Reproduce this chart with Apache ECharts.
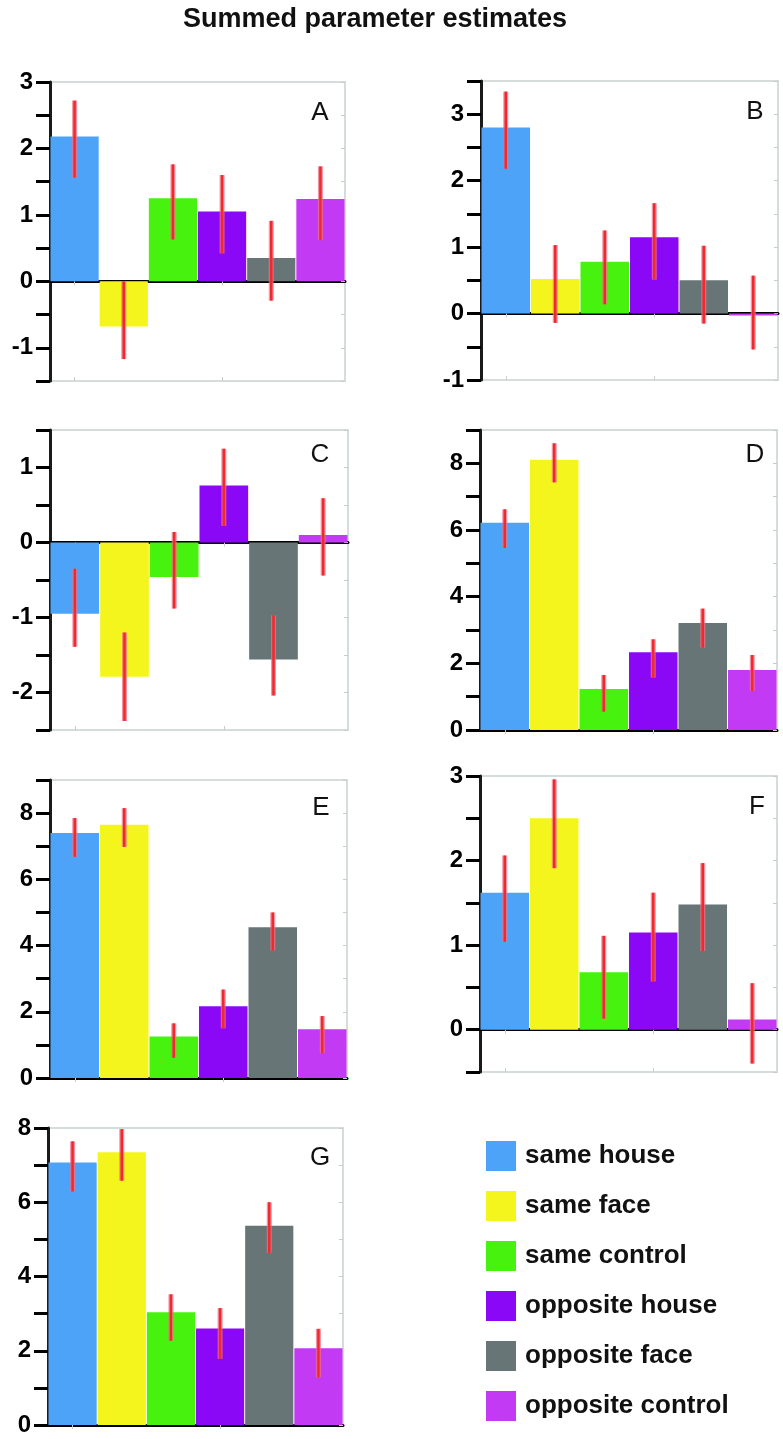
<!DOCTYPE html>
<html>
<head>
<meta charset="utf-8">
<script src="https://cdn.jsdelivr.net/npm/echarts@6/dist/echarts.min.js"></script>
<style>
html,body{margin:0;padding:0;background:#fff;}
#chart{width:783px;height:1439px;}
</style>
</head>
<body>
<div id="chart"></div>
<script>
// ---- data ----
var categories = ['same house','same face','same control','opposite house','opposite face','opposite control'];
var colors = ['#4da3f7','#f5f51e','#46f20e','#8a08f5','#687576','#c33af5'];
var panelNames = ['A','B','C','D','E','F','G'];

var A_mean = [2.18, -0.68, 1.25, 1.05, 0.35, 1.24];
var A_low  = [1.56, -1.17, 0.63, 0.42, -0.29, 0.62];
var A_high = [2.72, 0.0, 1.76, 1.60, 0.91, 1.73];

var B_mean = [2.80, 0.52, 0.78, 1.15, 0.50, -0.03];
var B_low  = [2.18, -0.14, 0.14, 0.51, -0.15, -0.54];
var B_high = [3.34, 1.03, 1.25, 1.66, 1.02, 0.57];

var C_mean = [-0.95, -1.79, -0.46, 0.76, -1.56, 0.10];
var C_low  = [-1.39, -2.38, -0.88, 0.22, -2.04, -0.44];
var C_high = [-0.35, -1.20, 0.14, 1.25, -0.97, 0.59];

var D_mean = [6.22, 8.11, 1.23, 2.33, 3.21, 1.80];
var D_low  = [5.46, 7.43, 0.55, 1.57, 2.47, 1.17];
var D_high = [6.62, 8.60, 1.65, 2.72, 3.64, 2.25];

var E_mean = [7.40, 7.65, 1.25, 2.17, 4.55, 1.47];
var E_low  = [6.68, 6.98, 0.61, 1.50, 3.85, 0.75];
var E_high = [7.85, 8.15, 1.65, 2.67, 5.00, 1.87];

var F_mean = [1.62, 2.50, 0.68, 1.15, 1.48, 0.12];
var F_low  = [1.04, 1.91, 0.13, 0.57, 0.93, -0.40];
var F_high = [2.06, 2.96, 1.11, 1.62, 1.97, 0.55];

var G_mean = [7.07, 7.35, 3.04, 2.60, 5.37, 2.07];
var G_low  = [6.29, 6.58, 2.27, 1.78, 4.63, 1.28];
var G_high = [7.64, 7.97, 3.52, 3.15, 6.00, 2.59];

// axis ranges
var yMin = [-1.5, -1, -2.5, 0, 0, -0.5, 0];
var yMax = [3, 3.5, 1.5, 9, 9, 3, 8];
var yInterval = [0.5, 0.5, 0.5, 1, 1, 0.5, 1];
var labelStep = [1, 1, 1, 2, 2, 1, 2];

var means = [A_mean, B_mean, C_mean, D_mean, E_mean, F_mean, G_mean];
var lows  = [A_low, B_low, C_low, D_low, E_low, F_low, G_low];
var highs = [A_high, B_high, C_high, D_high, E_high, F_high, G_high];

// ---- layout ----
var grids = [
  {left: 50,  top: 82,  width: 295, height: 299},
  {left: 481, top: 81,  width: 297, height: 299},
  {left: 50,  top: 430, width: 298, height: 300},
  {left: 480, top: 430, width: 297, height: 300},
  {left: 50,  top: 780, width: 297, height: 298},
  {left: 480, top: 776, width: 297, height: 296},
  {left: 48,  top: 1128, width: 295, height: 297}
];
var letterPos = [[320,113],[755,112],[320,455],[755,455],[321,808],[757,807],[320,1158]];

var FONT = "'Liberation Sans', Arial, Helvetica, sans-serif";
var frameColor = '#d6dbdb';

var option = {
  animation: false,
  backgroundColor: '#fff',
  title: {
    text: 'Summed parameter estimates',
    left: 370, top: 1, textAlign: 'center',
    textStyle: {fontFamily: FONT, fontWeight: 'bold', fontSize: 27, color: '#111'}
  },
  legend: {
    orient: 'vertical', left: 481, top: 1136,
    itemWidth: 30, itemHeight: 30, itemGap: 20,
    icon: 'rect',
    data: categories,
    textStyle: {fontFamily: FONT, fontWeight: 'bold', fontSize: 26, color: '#111', padding: [0,0,0,4]}
  },
  grid: [], xAxis: [], yAxis: [], series: [],
  graphic: []
};

grids.forEach(function (g, p) {
  option.grid.push({left: g.left, top: g.top, width: g.width, height: g.height,
    show: true, borderColor: frameColor, borderWidth: 2, backgroundColor: '#fff'});
  var step = labelStep[p];
  option.xAxis.push({
    type: 'category', gridIndex: p, data: categories, position: 'bottom',
    axisLine: {show: true, onZero: true, lineStyle: {color: '#000', width: 3}},
    axisTick: {show: false}, axisLabel: {show: false}, splitLine: {show: false}
  });
  option.xAxis.push({
    type: 'category', gridIndex: p, data: categories, position: 'top',
    axisLine: {show: false},
    axisTick: {show: true, inside: true, alignWithLabel: true, length: 4, lineStyle: {color: '#c8cccc', width: 1}},
    axisLabel: {show: false}, splitLine: {show: false}
  });
  option.yAxis.push({
    type: 'value', gridIndex: p, position: 'left',
    min: yMin[p], max: yMax[p], interval: yInterval[p],
    axisLine: {show: true, onZero: false, lineStyle: {color: '#1a1a1a', width: 3}},
    axisTick: {show: true, inside: false, length: 14, lineStyle: {color: '#000', width: 3}},
    axisLabel: {
      show: true, margin: 17, color: '#000', fontFamily: FONT, fontWeight: 'bold', fontSize: 24,
      formatter: function (v) {
        var r = Math.round(v);
        if (Math.abs(v - r) < 1e-6 && r % step === 0) return String(r);
        return '';
      }
    },
    splitLine: {show: false}
  });
  option.yAxis.push({
    type: 'value', gridIndex: p, position: 'right',
    min: yMin[p], max: yMax[p], interval: yInterval[p],
    axisLine: {show: false},
    axisTick: {show: true, inside: true, length: 4, lineStyle: {color: '#c8cccc', width: 1}},
    axisLabel: {show: false}, splitLine: {show: false}
  });

  categories.forEach(function (name, c) {
    var d = categories.map(function (_, i) { return i === c ? means[p][i] : '-'; });
    option.series.push({
      type: 'bar', name: name, xAxisIndex: 2 * p, yAxisIndex: 2 * p,
      stack: 'panel' + p, data: d, barCategoryGap: '2%',
      itemStyle: {color: colors[c]}, z: 2
    });
  });

  var errData = categories.map(function (_, i) { return [i, lows[p][i], highs[p][i]]; });
  option.series.push({
    type: 'custom', name: 'err' + p, xAxisIndex: 2 * p, yAxisIndex: 2 * p,
    data: errData, encode: {x: 0, y: [1, 2]}, z: 5,
    renderItem: function (params, api) {
      var a = api.coord([api.value(0), api.value(1)]);
      var b = api.coord([api.value(0), api.value(2)]);
      return {
        type: 'group',
        children: [
          {type: 'line', shape: {x1: a[0], y1: a[1], x2: b[0], y2: b[1]},
            style: {stroke: 'rgba(244,110,130,0.75)', lineWidth: 5}},
          {type: 'line', shape: {x1: a[0], y1: a[1], x2: b[0], y2: b[1]},
            style: {stroke: '#ef2a2e', lineWidth: 2.5}}
        ]
      };
    }
  });

  option.graphic.push({
    type: 'text', x: letterPos[p][0], y: letterPos[p][1], z: 10,
    style: {text: panelNames[p], font: 'normal 26px ' + FONT, fill: '#111',
      textAlign: 'center', textVerticalAlign: 'middle'}
  });
});

grids.forEach(function (g, p) {
  var gi = grids.length + p;
  option.grid.push({left: g.left, top: g.top, width: g.width, height: g.height, show: false});
  option.xAxis.push({
    type: 'category', gridIndex: gi, data: categories, position: 'bottom',
    axisLine: {show: false, onZero: false},
    axisTick: {show: true, inside: true, alignWithLabel: true, length: 4, lineStyle: {color: '#c8cccc', width: 1}},
    axisLabel: {show: false}, splitLine: {show: false}
  });
  option.yAxis.push({
    type: 'value', gridIndex: gi, min: 0, max: 1,
    axisLine: {show: false}, axisTick: {show: false}, axisLabel: {show: false}, splitLine: {show: false}
  });
});

var chart = echarts.init(document.getElementById('chart'), null, {renderer: 'canvas'});
chart.setOption(option);
</script>
</body>
</html>
